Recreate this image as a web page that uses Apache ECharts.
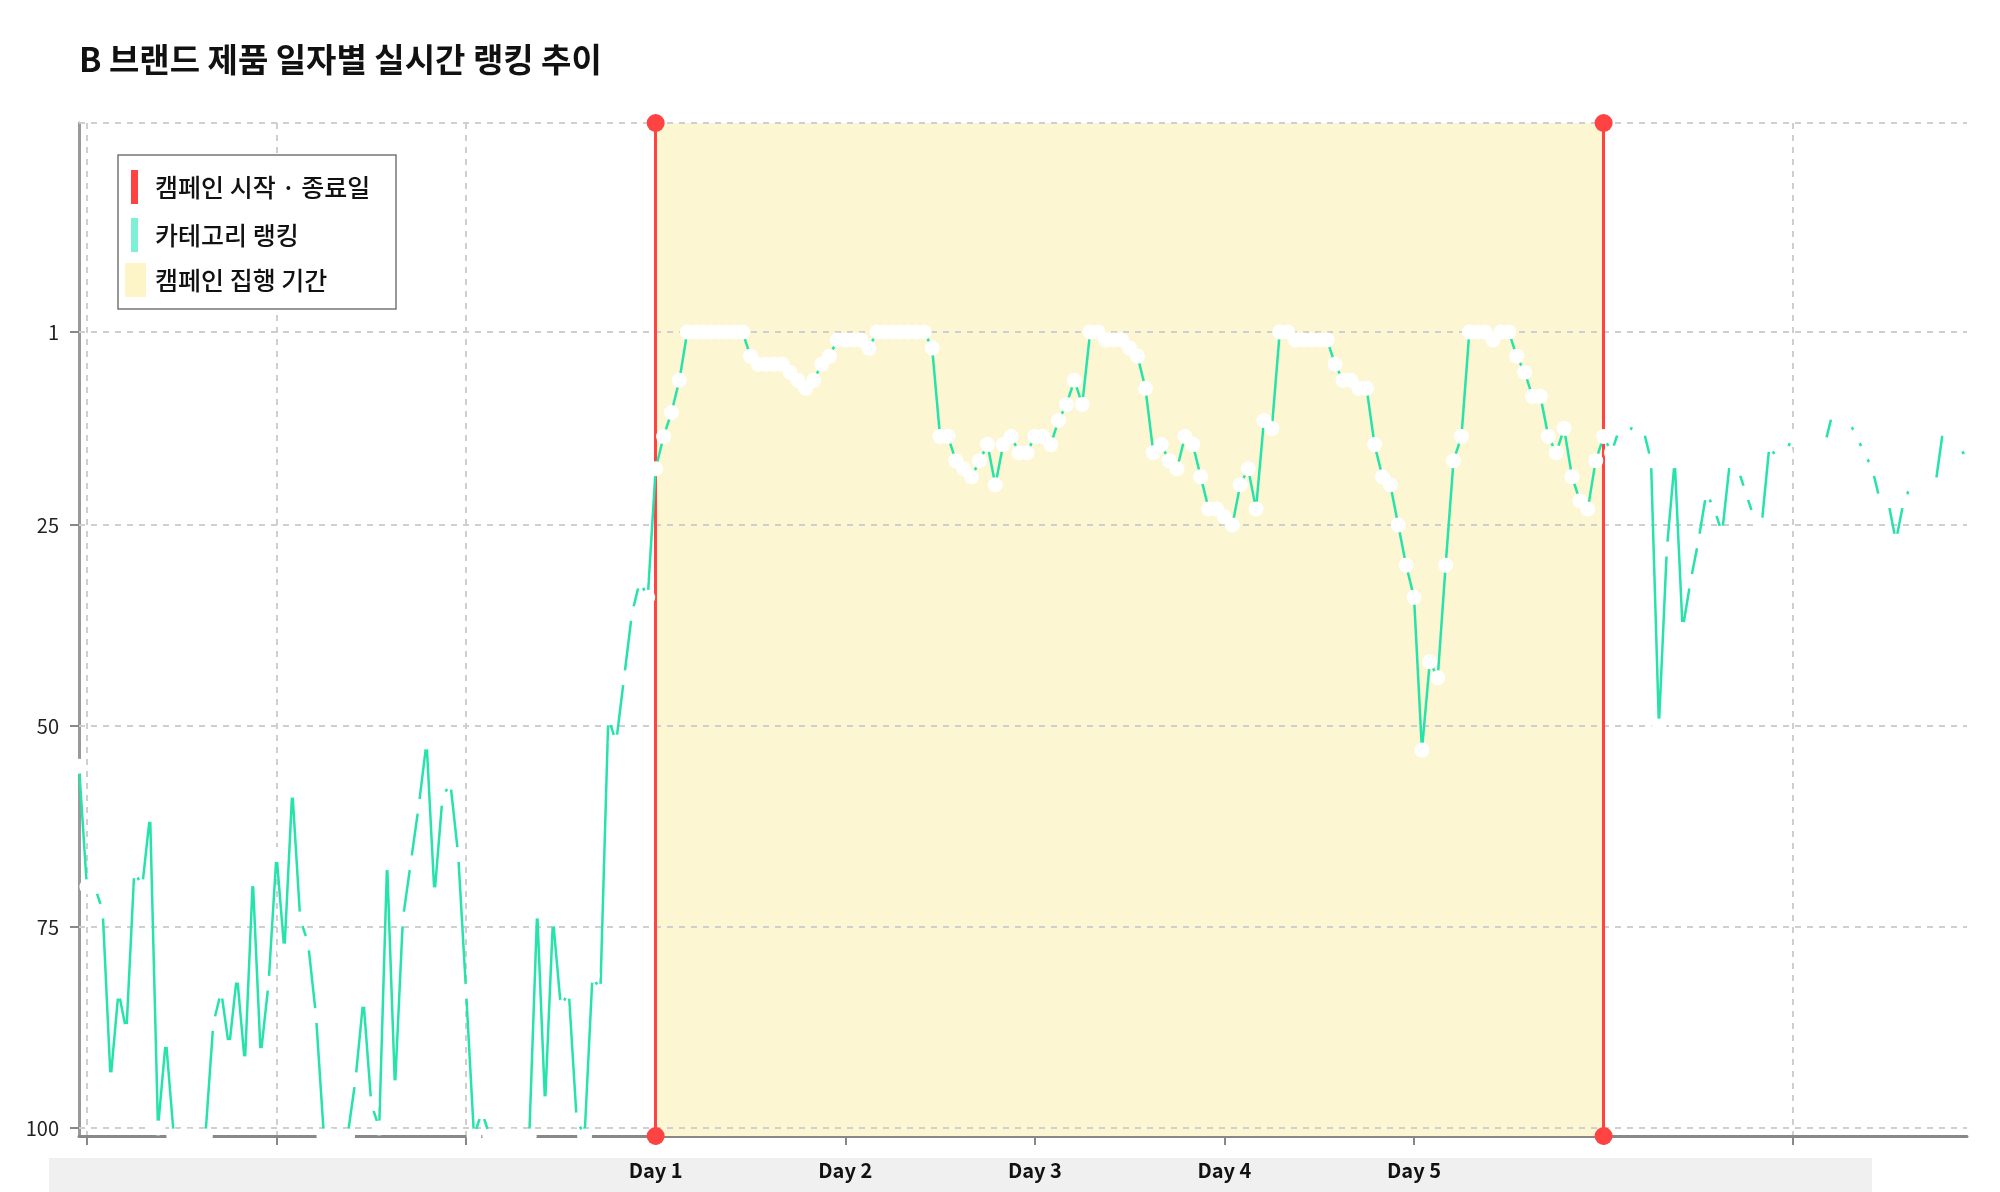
<!DOCTYPE html>
<html><head><meta charset="utf-8">
<script src="https://cdn.jsdelivr.net/npm/echarts@6/dist/echarts.min.js"></script>
<style>html,body{margin:0;padding:0;background:#fff}#c{width:2000px;height:1192px}</style>
</head><body><div id="c"></div>
<script>
const titleText = 'B 브랜드 제품 일자별 실시간 랭킹 추이';
const legendLabels = ['캠페인 시작 · 종료일', '카테고리 랭킹', '캠페인 집행 기간'];
// hourly category ranking (null = out of top 100)
const rankValues = [
  55,70,70,73,94,83,88,68,70,61,100,89,null,null,null,null,null,87,83,90,81,92,69,91,
  82,66,78,58,74,77,86,null,null,null,null,94,84,97,100,67,95,74,67,60,52,71,59,57,
  66,83,null,98,null,null,null,null,null,null,73,97,74,85,83,99,null,81,83,49,52,44,36,32,
  34,18,14,11,7,1,1,1,1,1,1,1,1,4,5,5,5,5,6,7,8,7,5,4,
  2,2,2,2,3,1,1,1,1,1,1,1,3,14,14,17,18,19,17,15,20,15,14,16,
  16,14,14,15,12,10,7,10,1,1,2,2,2,3,4,8,16,15,17,18,14,15,19,23,
  23,24,25,20,18,23,12,13,1,1,2,2,2,2,2,5,7,7,8,8,15,19,20,25,
  30,34,53,42,44,30,17,14,1,1,1,2,1,1,4,6,9,9,14,16,13,19,22,23,
  17,14,16,13,14,12,13,17,50,28,17,38,32,27,21,23,26,17,18,21,24,25,15,17,
  16,14,14,15,15,15,11,12,12,14,16,18,22,22,27,22,20,20,19,20,13,14,15,17
];
const OUT_OF_RANK = 101;
const yTickValues = [1, 25, 50, 75, 100];
const gridLineValues = [-25, 1, 25, 50, 75, 100];
const dayLabels = ['Day 1', 'Day 2', 'Day 3', 'Day 4', 'Day 5'];
const dayLabelIndex = [73, 97, 121, 145, 169];
const campaignStart = 73, campaignEnd = 193;

const categories = rankValues.map((v, i) => String(i));
const GREEN = '#25e3ab', ORANGE = '#ee6a10', RED = '#ff4343';
const seriesData = rankValues.map(v => v === null
  ? { value: OUT_OF_RANK, itemStyle: { borderColor: ORANGE, color: '#fff' } }
  : v);
const isGrid = i => (i - 1) % 24 === 0;
const FONT = 'Noto Sans CJK KR';

const chart = echarts.init(document.getElementById('c'));
chart.setOption({
  animation: false,
  backgroundColor: '#fff',
  title: { text: titleText, left: 74, top: 38, textStyle: { fontFamily: FONT, fontSize: 33, fontWeight: 'bold', color: '#111' } },
  grid: { left: 79, right: 33, top: 123, bottom: 56 },
  xAxis: {
    type: 'category', data: categories, boundaryGap: false,
    axisLine: { onZero: false, lineStyle: { color: '#888', width: 3 } },
    axisTick: { interval: (i) => isGrid(i), length: 9, lineStyle: { color: '#888', width: 2 } },
    axisLabel: {
      interval: (i) => dayLabelIndex.indexOf(i) >= 0,
      formatter: (v, i) => { const k = dayLabelIndex.indexOf(i); return k >= 0 ? dayLabels[k] : ''; },
      margin: 24, fontFamily: FONT, fontSize: 20, fontWeight: 'bold', color: '#111'
    },
    splitLine: { show: true, interval: (i) => isGrid(i), lineStyle: { type: [6, 6], color: '#cfcfcf', width: 2 } }
  },
  yAxis: {
    type: 'value', inverse: true, min: -25, max: 101,
    axisLine: { show: true, onZero: false, lineStyle: { color: '#999', width: 3 } },
    axisTick: { show: true, customValues: yTickValues, length: 9, lineStyle: { color: '#888', width: 2 } },
    axisLabel: { customValues: yTickValues, fontFamily: FONT, fontSize: 20, color: '#222', margin: 20 },
    splitLine: { show: false }
  },
  graphic: [
    { type: 'rect', z: -1, shape: { x: 49, y: 1158, width: 1823, height: 40 }, style: { fill: '#f0f0f0' } },
    { type: 'rect', shape: { x: 118, y: 155, width: 278, height: 154 }, style: { fill: '#fff', stroke: '#777', lineWidth: 1.5 }, z: 100 },
    { type: 'rect', shape: { x: 131, y: 170, width: 7, height: 34 }, style: { fill: RED }, z: 101 },
    { type: 'rect', shape: { x: 131, y: 218, width: 7, height: 34 }, style: { fill: '#7ef0d6' }, z: 101 },
    { type: 'rect', shape: { x: 125, y: 263, width: 21, height: 34 }, style: { fill: '#fdf5c8' }, z: 101 },
    { type: 'text', x: 155, y: 187, style: { text: legendLabels[0], font: '500 25px "Noto Sans CJK KR"', fill: '#111', verticalAlign: 'middle' }, z: 102 },
    { type: 'text', x: 155, y: 235, style: { text: legendLabels[1], font: '500 25px "Noto Sans CJK KR"', fill: '#111', verticalAlign: 'middle' }, z: 102 },
    { type: 'text', x: 155, y: 280, style: { text: legendLabels[2], font: '500 25px "Noto Sans CJK KR"', fill: '#111', verticalAlign: 'middle' }, z: 102 }
  ],
  series: [
    {
      type: 'line', data: [], silent: true,
      markLine: {
        silent: true, symbol: 'none', label: { show: false },
        lineStyle: { type: [6, 6], color: '#cfcfcf', width: 2 },
        data: gridLineValues.map(v => ({ yAxis: v }))
      },
      markArea: {
        silent: true, itemStyle: { color: '#fdf6d3' },
        data: [[{ xAxis: String(campaignStart) }, { xAxis: String(campaignEnd) }]]
      }
    },
    {
      type: 'line', data: seriesData, z: 5,
      symbol: 'emptyCircle', symbolSize: 13, showSymbol: true, showAllSymbol: true,
      lineStyle: { color: GREEN, width: 2.5 },
      itemStyle: { color: '#fff', borderColor: GREEN, borderWidth: 2.5 },
      markLine: {
        silent: true, symbol: ['circle', 'circle'], symbolSize: 18, label: { show: false },
        lineStyle: { type: 'solid', color: RED, width: 3 }, itemStyle: { color: RED },
        data: [{ xAxis: String(campaignStart) }, { xAxis: String(campaignEnd) }]
      }
    }
  ]
});
</script></body></html>
